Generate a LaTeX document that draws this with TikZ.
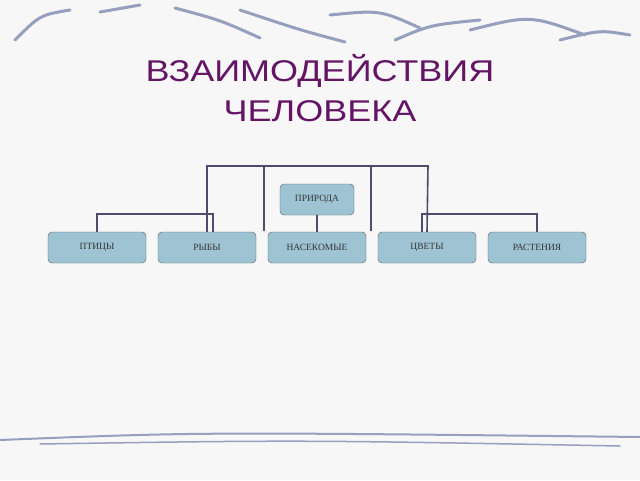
\documentclass[tikz,border=0pt]{standalone}
\usepackage{fontspec}
\setmainfont{Liberation Serif}
\newfontfamily\titlefont[FakeStretch=1.2]{Liberation Sans}
\definecolor{boxfill}{RGB}{158,196,212}
\definecolor{linec}{RGB}{78,76,110}
\definecolor{decoc}{RGB}{150,160,190}
\definecolor{titlec}{RGB}{100,20,100}
\begin{document}
\begin{tikzpicture}[x=1pt,y=-1pt,
  box/.style={draw=black!65,fill=boxfill,rounded corners=4pt,minimum width=98pt,minimum height=31pt,inner sep=0pt,font=\fontsize{9.5}{10}\selectfont,text=black!80},
  link/.style={draw=linec,line width=1.6pt},
  deco/.style={draw=decoc,line width=3pt,line cap=round}]
\useasboundingbox (0,0) rectangle (640,480);
\fill[gray!6] (0,0) rectangle (640,480);
% decorative strokes
\draw[deco] (15,40) .. controls (40,15) .. (70,10);
\draw[deco] (100,12) -- (140,5);
\draw[deco] (175,8) .. controls (220,20) .. (260,38);
\draw[deco] (240,10) .. controls (300,30) .. (345,42);
\draw[deco] (330,15) .. controls (380,10) .. (420,28);
\draw[deco] (395,40) .. controls (430,25) .. (480,20);
\draw[deco] (470,30) .. controls (530,15) .. (585,35);
\draw[deco] (560,40) .. controls (600,30) .. (630,35);
\draw[deco,line width=2pt] (0,440) .. controls (200,432) .. (640,437);
\draw[deco,line width=1.5pt] (40,444) .. controls (300,440) .. (620,446);
\node[font=\titlefont\fontsize{30}{40}\selectfont,text=titlec,align=center] (title) at (320,88) {ВЗАИМОДЕЙСТВИЯ\\ЧЕЛОВЕКА};
\node[box,minimum width=74pt] (pr) at (317,199.5) {ПРИРОДА};
\node[box] (b1) at (97,247.5) {ПТИЦЫ};
\node[box] (b2) at (207,247.5) {РЫБЫ};
\node[box] (b3) at (317,247.5) {НАСЕКОМЫЕ};
\node[box] (b4) at (427,247.5) {ЦВЕТЫ};
\node[box] (b5) at (537,247.5) {РАСТЕНИЯ};
\draw[link] (pr.south) -- (b3.north);
\draw[link] (b2.north) -- (207,166) -- (428,166) -- (b4.north);
\draw[link] (264,166) -- (264,231);
\draw[link] (371,166) -- (371,231);
\draw[link] (b1.north) -- (97,214) -- (213,214) -- (213,232);
\draw[link] (422,232) -- (422,214) -- (537,214) -- (b5.north);
\end{tikzpicture}
\end{document}
